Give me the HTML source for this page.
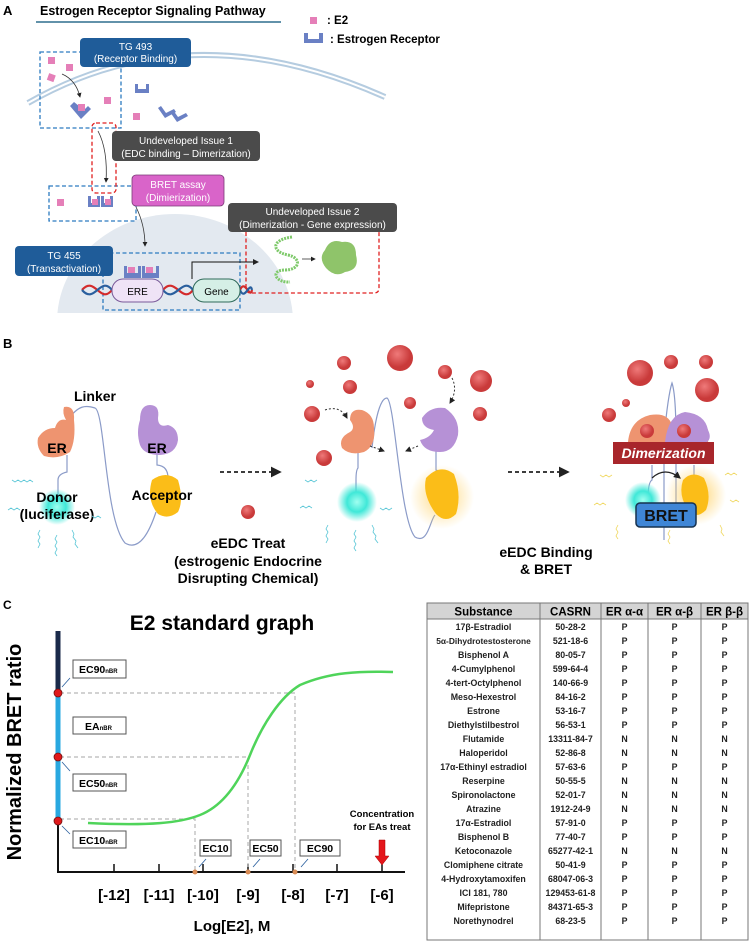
<!DOCTYPE html>
<html><head><meta charset="utf-8"><style>
html,body{margin:0;padding:0;background:#fff}
svg{display:block;font-family:"Liberation Sans",Arial,sans-serif}
</style></head><body>
<svg width="750" height="943" viewBox="0 0 750 943" xmlns="http://www.w3.org/2000/svg">
<defs>
<marker id="ah" markerWidth="6" markerHeight="6" refX="5" refY="3" orient="auto"><path d="M0,0 L6,3 L0,6 z" fill="#222"/></marker>
<radialGradient id="cy"><stop offset="0" stop-color="#a0fff0"/><stop offset="0.5" stop-color="#40e8d8"/><stop offset="1" stop-color="#40e8d8" stop-opacity="0"/></radialGradient>
<radialGradient id="yg"><stop offset="0.4" stop-color="#ffd060" stop-opacity="0.8"/><stop offset="1" stop-color="#ffd060" stop-opacity="0"/></radialGradient>
<radialGradient id="rd" cx="0.4" cy="0.35"><stop offset="0" stop-color="#ef7a7a"/><stop offset="1" stop-color="#c93a3a"/></radialGradient>
<clipPath id="nc"><rect x="0" y="0" width="750" height="313"/></clipPath>
</defs>

<!-- PANEL A -->
<text x="3" y="15" font-size="13" font-weight="bold">A</text>
<text x="40" y="15" font-size="12.5" font-weight="bold">Estrogen Receptor Signaling Pathway</text>
<line x1="36" y1="22" x2="281" y2="22" stroke="#2e6e8e" stroke-width="1.5"/>
<rect x="310" y="17" width="7" height="7" fill="#e57fb8"/>
<text x="327" y="24" font-size="11.5" font-weight="bold">: E2</text>
<path d="M304,33 v10 h19 v-10 h-4 v6 h-11 v-6 z" fill="#6a80c4"/>
<text x="330" y="43" font-size="11.5" font-weight="bold">: Estrogen Receptor</text>

<g clip-path="url(#nc)">
<ellipse cx="175" cy="322" rx="118" ry="108" fill="#e3e9f0"/>
</g>
<path d="M28,103 Q190,10 385,97" fill="none" stroke="#b5cce0" stroke-width="6"/>
<path d="M28,103 Q190,10 385,97" fill="none" stroke="#fff" stroke-width="2"/>

<g fill="#e57fb8">
<rect x="48" y="57" width="7" height="7"/><rect x="66" y="64" width="7" height="7"/><rect x="48" y="74" width="7" height="7" transform="rotate(20 51 77)"/>
<rect x="104" y="97" width="7" height="7"/><rect x="133" y="113" width="7" height="7"/>
<rect x="57" y="199" width="7" height="7"/>
</g>
<g fill="#6a80c4">
<path d="M70,106 l4,-4 l10,8 l4,-4 l3,3 l-10,10 z"/>
<rect x="78" y="104" width="7" height="7" fill="#e57fb8"/>
<path d="M135,84 v9 h14 v-9 h-3 v5 h-8 v-5 z"/>
<path d="M158,108 l3,-2 l5,7 l8,-4 l2,3 l-11,6 z"/>
<path d="M170,112 l3,-2 l5,7 l8,-4 l2,3 l-11,6 z"/>
<path d="M88,196 v11 h12 v-11 h-3 v7 h-6 v-7 z"/><path d="M101,196 v11 h12 v-11 h-3 v7 h-6 v-7 z"/>
<path d="M124,266 v12 h17 v-12 h-3 v7 h-11 v-7 z"/><path d="M142,266 v12 h17 v-12 h-3 v7 h-11 v-7 z"/>
</g>
<g fill="#e57fb8"><rect x="92" y="199" width="6" height="6"/><rect x="105" y="199" width="6" height="6"/><rect x="128" y="267" width="7" height="6"/><rect x="146" y="267" width="7" height="6"/></g>

<path d="M62,74 Q76,80 80,97" fill="none" stroke="#333" stroke-width="0.8" marker-end="url(#ah)"/>
<path d="M98,131 Q108,150 106,182" fill="none" stroke="#333" stroke-width="0.8" marker-end="url(#ah)"/>
<path d="M136,207 Q145,225 145,246" fill="none" stroke="#333" stroke-width="0.8" marker-end="url(#ah)"/>

<g fill="none" stroke-width="1.3" stroke-dasharray="4,2.5">
<rect x="40" y="52" width="81" height="76" stroke="#2c7bc0"/>
<rect x="49" y="186" width="87" height="35" stroke="#2c7bc0"/>
<rect x="103" y="253" width="137" height="57" stroke="#2c7bc0"/>
<rect x="92" y="123" width="24" height="70" rx="4" stroke="#e02020"/>
<path d="M246,232 V288 Q246,293 251,293 H374 Q379,293 379,288 V232" stroke="#e02020"/>
</g>

<g fill="none" stroke-width="2.2">
<path d="M82,290 C95,275 100,305 112,290" stroke="#d42b2b"/><path d="M82,290 C95,305 100,275 112,290" stroke="#2a5f9e"/>
<path d="M163,290 C175,275 182,305 193,290" stroke="#d42b2b"/><path d="M163,290 C175,305 182,275 193,290" stroke="#2a5f9e"/>
<path d="M240,290 C245,278 250,300 252,290" stroke="#d42b2b"/><path d="M240,290 C245,302 250,280 252,290" stroke="#2a5f9e"/>
</g>
<rect x="112" y="279" width="51" height="23" rx="11" fill="#efe3f6" stroke="#7a5a9a" stroke-width="1"/>
<text x="137.5" y="295" font-size="10" text-anchor="middle">ERE</text>
<rect x="193" y="279" width="47" height="23" rx="11" fill="#d5efe6" stroke="#2f6a5a" stroke-width="1"/>
<text x="216.5" y="295" font-size="10" text-anchor="middle">Gene</text>
<path d="M192,279 V262 H258" fill="none" stroke="#111" stroke-width="1" marker-end="url(#ah)"/>
<path d="M292,237 C270,240 272,252 288,255 C302,258 300,270 285,270 C270,270 275,283 290,282" fill="none" stroke="#7ec96a" stroke-width="3" stroke-dasharray="2,1"/>
<line x1="302" y1="259" x2="315" y2="259" stroke="#333" stroke-width="0.8" marker-end="url(#ah)"/>
<path d="M325,250 Q330,238 342,242 Q356,240 356,255 Q360,270 345,272 Q335,278 326,268 Q318,258 325,250 z" fill="#8fc46a"/>

<rect x="80" y="38" width="111" height="29" rx="4" fill="#1f5c99"/>
<text x="135.5" y="50" font-size="10" fill="#fff" text-anchor="middle">TG 493</text>
<text x="135.5" y="62" font-size="10" fill="#fff" text-anchor="middle">(Receptor  Binding)</text>
<rect x="112" y="131" width="148" height="30" rx="4" fill="#4b4b4b"/>
<text x="186" y="144" font-size="10" fill="#fff" text-anchor="middle">Undeveloped  Issue  1</text>
<text x="186" y="157" font-size="10" fill="#fff" text-anchor="middle">(EDC binding – Dimerization)</text>
<rect x="132" y="175" width="92" height="31" rx="4" fill="#d964c9" stroke="#7a3b76" stroke-width="0.8"/>
<text x="178" y="188" font-size="10" fill="#fff" text-anchor="middle">BRET assay</text>
<text x="178" y="201" font-size="10" fill="#fff" text-anchor="middle">(Dimierization)</text>
<rect x="228" y="203" width="169" height="29" rx="4" fill="#4b4b4b"/>
<text x="312.5" y="215" font-size="10" fill="#fff" text-anchor="middle">Undeveloped  Issue  2</text>
<text x="312.5" y="228" font-size="10" fill="#fff" text-anchor="middle">(Dimerization  - Gene expression)</text>
<rect x="15" y="246" width="98" height="30" rx="4" fill="#1f5c99"/>
<text x="64" y="259" font-size="10" fill="#fff" text-anchor="middle">TG 455</text>
<text x="64" y="272" font-size="10" fill="#fff" text-anchor="middle">(Transactivation)</text>

<!-- PANEL B -->
<text x="3" y="348" font-size="13" font-weight="bold">B</text>
<g stroke="#8b9bc8" stroke-width="1.2" fill="none">
<path d="M68,420 C78,405 86,405 95,408 C105,412 105,520 125,543 C140,552 150,530 156,512"/>
<path d="M67,455 V472 Q58,474 58,480 V505"/>
<path d="M157,452 V465 Q168,466 168,478"/>
<path d="M372,448 C375,420 380,398 387,398 C395,402 400,520 415,537 C428,545 430,520 435,515"/>
<path d="M358,452 V468 Q356,470 356,480 V500"/>
<path d="M436,450 V470 Q442,472 442,480"/>
<path d="M664,540 V438 Q668,395 672,383 Q676,395 676,440 V520"/>
<path d="M652,465 V480 Q648,482 648,500"/>
<path d="M694,465 V480"/>
</g>
<text x="95" y="401" font-size="14" font-weight="bold" text-anchor="middle">Linker</text>
<path d="M55,428 Q58,418 66,420 Q62,413 64,407 Q75,405 74,420 Q76,440 70,452 Q58,460 44,456 Q36,448 38,438 Q44,428 55,428 z" fill="#ee9470"/>
<text x="57" y="453" font-size="14" font-weight="bold" text-anchor="middle">ER</text>
<path d="M140,420 Q140,405 150,405 Q160,405 158,418 Q158,428 168,425 Q178,428 178,440 Q176,454 160,455 Q144,455 140,445 Q136,432 140,420 z" fill="#b691d6"/>
<text x="157" y="453" font-size="14" font-weight="bold" text-anchor="middle">ER</text>
<circle cx="57" cy="507" r="18" fill="url(#cy)"/>
<path d="M152,480 Q166,470 178,480 Q184,500 178,512 Q168,520 158,514 Q146,500 152,480 z" fill="#fbbd18"/>
<text x="57" y="502" font-size="14" font-weight="bold" text-anchor="middle">Donor</text>
<text x="57" y="519" font-size="14" font-weight="bold" text-anchor="middle">(luciferase)</text>
<text x="162" y="500" font-size="14" font-weight="bold" text-anchor="middle">Acceptor</text>
<g stroke="#59c6d6" stroke-width="0.8" fill="none">
<path d="M12,480 l3,2 l3,-2 l3,2 l3,-2 l3,2 l3,-2 l3,2"/>
<path d="M8,510 l3,-2 l3,2 l3,-2 l3,2"/>
<path d="M40,530 l-2,4 l2,3 l-2,4 l2,3 l-2,4"/>
<path d="M57,535 l-2,4 l2,3 l-2,4 l2,3 l-2,4 l2,3"/>
<path d="M72,530 l2,4 l-1,3 l3,4 l-1,3 l3,4"/>
<path d="M92,516 l3,2 l3,-2 l3,2"/>
<path d="M305,480 l3,2 l3,-2 l3,2 l3,-2"/>
<path d="M300,508 l3,-2 l3,2 l3,-2 l3,2"/>
<path d="M328,525 l-2,4 l2,3 l-2,4 l2,3 l-2,4"/>
<path d="M356,530 l-2,4 l2,3 l-2,4 l2,3 l-2,4 l2,3"/>
<path d="M372,525 l2,4 l-1,3 l3,4 l-1,3 l3,4"/>
<path d="M380,508 l3,2 l3,-2 l3,2 l3,-2"/>
</g>
<line x1="220" y1="472" x2="280" y2="472" stroke="#222" stroke-width="1.8" stroke-dasharray="4,3" marker-end="url(#ah)"/>
<circle cx="248" cy="512" r="7" fill="url(#rd)"/>
<g font-size="14" font-weight="bold" text-anchor="middle">
<text x="248" y="548">eEDC Treat</text>
<text x="248" y="566">(estrogenic Endocrine</text>
<text x="248" y="583">Disrupting Chemical)</text>
<text x="546" y="557">eEDC Binding</text>
<text x="546" y="574">&amp; BRET</text>
</g>
<g fill="url(#rd)">
<circle cx="344" cy="363" r="7"/><circle cx="400" cy="358" r="13"/><circle cx="445" cy="372" r="7"/><circle cx="481" cy="381" r="11"/>
<circle cx="310" cy="384" r="4"/><circle cx="350" cy="387" r="7"/><circle cx="410" cy="403" r="6"/><circle cx="480" cy="414" r="7"/>
<circle cx="312" cy="414" r="8"/><circle cx="324" cy="458" r="8"/>
</g>
<path d="M350,420 Q350,408 362,410 Q374,414 374,428 Q376,446 364,452 Q350,456 342,448 Q338,438 350,432 Q356,428 350,420 z" fill="#ee9470"/>
<path d="M422,418 Q430,406 445,408 Q460,418 458,435 Q454,452 440,452 Q424,452 420,440 Q430,438 434,430 Q422,428 422,418 z" fill="#b691d6"/>
<g stroke="#333" stroke-width="1" fill="none" stroke-dasharray="2,2">
<path d="M325,410 Q340,405 347,418" marker-end="url(#ah)"/>
<path d="M452,378 Q458,390 450,403" marker-end="url(#ah)"/>
<path d="M370,446 l14,5" marker-end="url(#ah)"/>
<path d="M418,446 l-12,5" marker-end="url(#ah)"/>
</g>
<circle cx="357" cy="502" r="20" fill="url(#cy)"/>
<circle cx="442" cy="497" r="32" fill="url(#yg)" opacity="0.6"/>
<path d="M426,478 Q440,463 454,474 Q462,495 456,514 Q446,524 436,514 Q422,495 426,478 z" fill="#fbbd18"/>
<line x1="508" y1="472" x2="568" y2="472" stroke="#222" stroke-width="1.8" stroke-dasharray="4,3" marker-end="url(#ah)"/>
<g fill="url(#rd)">
<circle cx="640" cy="373" r="13"/><circle cx="671" cy="362" r="7"/><circle cx="706" cy="362" r="7"/><circle cx="707" cy="390" r="12"/>
<circle cx="609" cy="415" r="7"/><circle cx="626" cy="403" r="4"/>
</g>
<path d="M628,442 Q630,420 650,415 Q668,412 672,425 Q680,410 695,415 Q712,425 708,442 z" fill="#ee9470"/>
<path d="M665,442 Q668,415 685,412 Q705,414 708,430 Q712,438 707,442 z" fill="#b691d6"/>
<circle cx="647" cy="431" r="7" fill="url(#rd)"/><circle cx="684" cy="431" r="7" fill="url(#rd)"/>
<rect x="613" y="442" width="101" height="22" fill="#a8262b"/>
<text x="663.5" y="458" font-size="14" font-weight="bold" font-style="italic" fill="#fff" text-anchor="middle">Dimerization</text>
<circle cx="643" cy="500" r="18" fill="url(#cy)"/>
<circle cx="696" cy="495" r="30" fill="url(#yg)" opacity="0.7"/>
<path d="M683,480 Q692,470 704,478 Q712,495 706,510 Q696,520 688,510 Q678,495 683,480 z" fill="#fbbd18"/>
<path d="M652,478 Q665,466 680,478" fill="none" stroke="#222" stroke-width="1.2" marker-end="url(#ah)"/>
<g stroke="#f0d860" stroke-width="0.8" fill="none">
<path d="M600,475 l3,2 l3,-2 l3,2 l3,-2"/><path d="M594,505 l3,-2 l3,2 l3,-2 l3,2"/><path d="M618,525 l-2,4 l2,3 l-2,4 l2,3"/>
<path d="M725,475 l3,-2 l3,2 l3,-2 l3,2"/><path d="M730,500 l3,2 l3,-2 l3,2"/><path d="M720,525 l2,4 l-1,3 l3,4"/><path d="M670,530 l-2,4 l2,3 l-2,4 l2,3"/>
</g>
<rect x="636" y="503" width="60" height="24" rx="4" fill="#3f86d6" stroke="#17324f" stroke-width="1.5"/>
<text x="666" y="521" font-size="16" font-weight="bold" fill="#111" text-anchor="middle">BRET</text>

<!-- PANEL C -->
<text x="3" y="609" font-size="12" font-weight="bold">C</text>
<text x="222" y="630" font-size="21" font-weight="bold" text-anchor="middle">E2 standard graph</text>
<text transform="translate(21,752) rotate(-90)" font-size="20" font-weight="bold" text-anchor="middle">Normalized BRET ratio</text>
<line x1="58" y1="631" x2="58" y2="693" stroke="#1a2a4a" stroke-width="5"/>
<line x1="58" y1="693" x2="58" y2="821" stroke="#29a8e0" stroke-width="5"/>
<line x1="58" y1="821" x2="58" y2="872" stroke="#111" stroke-width="2"/>
<line x1="57" y1="872" x2="405" y2="872" stroke="#111" stroke-width="2"/>
<g stroke="#111" stroke-width="1.5">
<line x1="114" y1="872" x2="114" y2="864"/><line x1="159" y1="872" x2="159" y2="864"/><line x1="203" y1="872" x2="203" y2="864"/><line x1="248" y1="872" x2="248" y2="864"/><line x1="293" y1="872" x2="293" y2="864"/><line x1="337" y1="872" x2="337" y2="864"/><line x1="382" y1="872" x2="382" y2="864"/>
</g>
<g font-size="15" font-weight="bold" text-anchor="middle">
<text x="114" y="900">[-12]</text><text x="159" y="900">[-11]</text><text x="203" y="900">[-10]</text><text x="248" y="900">[-9]</text><text x="293" y="900">[-8]</text><text x="337" y="900">[-7]</text><text x="382" y="900">[-6]</text>
<text x="232" y="931">Log[E2], M</text>
</g>
<g stroke="#b8b8b8" stroke-width="1.2" stroke-dasharray="4,3" fill="none">
<path d="M60,693 H295 V872"/><path d="M60,757 H248 V872"/><path d="M60,819 H195 V872"/>
</g>
<path d="M88,823 C150,826 180,823 200,815 C225,805 240,780 250,755 C262,725 280,697 300,685 C330,672 360,671 393,672" fill="none" stroke="#4fd45a" stroke-width="2.5"/>
<g fill="#e0191b" stroke="#701010" stroke-width="0.8"><circle cx="58" cy="693" r="4"/><circle cx="58" cy="757" r="4"/><circle cx="58" cy="821" r="4"/></g>
<g fill="#d98c55"><circle cx="195" cy="872" r="2.5"/><circle cx="248" cy="872" r="2.5"/><circle cx="295" cy="872" r="2.5"/></g>
<g fill="#fff" stroke="#555" stroke-width="1">
<rect x="73" y="660" width="53" height="18"/><rect x="73" y="717" width="53" height="17"/><rect x="73" y="774" width="53" height="17"/><rect x="73" y="831" width="53" height="17"/>
<rect x="200" y="840" width="31" height="16"/><rect x="250" y="840" width="31" height="16"/><rect x="300" y="840" width="40" height="16"/>
</g>
<g font-size="10.5" font-weight="bold">
<text x="79" y="673">EC90<tspan font-size="6">nBR</tspan></text>
<text x="85" y="730">EA<tspan font-size="6">nBR</tspan></text>
<text x="79" y="787">EC50<tspan font-size="6">nBR</tspan></text>
<text x="79" y="844">EC10<tspan font-size="6">nBR</tspan></text>
<text x="215.5" y="852" text-anchor="middle">EC10</text><text x="265.5" y="852" text-anchor="middle">EC50</text><text x="320" y="852" text-anchor="middle">EC90</text>
</g>
<g stroke="#2a5f9e" stroke-width="0.8">
<line x1="70" y1="678" x2="62" y2="687"/><line x1="62" y1="762" x2="70" y2="771"/><line x1="62" y1="826" x2="70" y2="834"/>
<line x1="206" y1="859" x2="199" y2="867"/><line x1="260" y1="859" x2="253" y2="867"/><line x1="308" y1="859" x2="301" y2="867"/>
</g>
<text x="382" y="817" font-size="9.5" font-weight="bold" text-anchor="middle">Concentration</text>
<text x="382" y="830" font-size="9.5" font-weight="bold" text-anchor="middle">for EAs treat</text>
<path d="M379,840 H385 V856 H389 L382,865 L375,856 H379 z" fill="#e4161b" stroke="#a00" stroke-width="0.5"/>

<!-- TABLE -->
<rect x="427" y="603" width="321" height="16" fill="#d4d4d4"/>
<rect x="427" y="603" width="321" height="337" fill="none" stroke="#777" stroke-width="1"/>
<line x1="427" y1="619" x2="748" y2="619" stroke="#777"/>
<g stroke="#777" stroke-width="1"><line x1="540" y1="603" x2="540" y2="940"/><line x1="601" y1="603" x2="601" y2="940"/><line x1="648" y1="603" x2="648" y2="940"/><line x1="701" y1="603" x2="701" y2="940"/></g>
<g font-size="11.5" font-weight="bold" text-anchor="middle">
<text x="483.5" y="615.5">Substance</text><text x="570.5" y="615.5">CASRN</text><text x="624.5" y="615.5">ER α-α</text><text x="674.5" y="615.5">ER α-β</text><text x="724.5" y="615.5">ER β-β</text>
</g>
<g font-size="8.8" font-weight="bold" text-anchor="middle" fill="#222">
<text x="483.5" y="630">17β-Estradiol</text><text x="570.5" y="630">50-28-2</text><text x="624.5" y="630">P</text><text x="674.5" y="630">P</text><text x="724.5" y="630">P</text>
<text x="483.5" y="644" font-size="8.4">5α-Dihydrotestosterone</text><text x="570.5" y="644">521-18-6</text><text x="624.5" y="644">P</text><text x="674.5" y="644">P</text><text x="724.5" y="644">P</text>
<text x="483.5" y="658">Bisphenol A</text><text x="570.5" y="658">80-05-7</text><text x="624.5" y="658">P</text><text x="674.5" y="658">P</text><text x="724.5" y="658">P</text>
<text x="483.5" y="672">4-Cumylphenol</text><text x="570.5" y="672">599-64-4</text><text x="624.5" y="672">P</text><text x="674.5" y="672">P</text><text x="724.5" y="672">P</text>
<text x="483.5" y="686">4-tert-Octylphenol</text><text x="570.5" y="686">140-66-9</text><text x="624.5" y="686">P</text><text x="674.5" y="686">P</text><text x="724.5" y="686">P</text>
<text x="483.5" y="700">Meso-Hexestrol</text><text x="570.5" y="700">84-16-2</text><text x="624.5" y="700">P</text><text x="674.5" y="700">P</text><text x="724.5" y="700">P</text>
<text x="483.5" y="714">Estrone</text><text x="570.5" y="714">53-16-7</text><text x="624.5" y="714">P</text><text x="674.5" y="714">P</text><text x="724.5" y="714">P</text>
<text x="483.5" y="728">Diethylstilbestrol</text><text x="570.5" y="728">56-53-1</text><text x="624.5" y="728">P</text><text x="674.5" y="728">P</text><text x="724.5" y="728">P</text>
<text x="483.5" y="742">Flutamide</text><text x="570.5" y="742">13311-84-7</text><text x="624.5" y="742">N</text><text x="674.5" y="742">N</text><text x="724.5" y="742">N</text>
<text x="483.5" y="756">Haloperidol</text><text x="570.5" y="756">52-86-8</text><text x="624.5" y="756">N</text><text x="674.5" y="756">N</text><text x="724.5" y="756">N</text>
<text x="483.5" y="770">17α-Ethinyl estradiol</text><text x="570.5" y="770">57-63-6</text><text x="624.5" y="770">P</text><text x="674.5" y="770">P</text><text x="724.5" y="770">P</text>
<text x="483.5" y="784">Reserpine</text><text x="570.5" y="784">50-55-5</text><text x="624.5" y="784">N</text><text x="674.5" y="784">N</text><text x="724.5" y="784">N</text>
<text x="483.5" y="798">Spironolactone</text><text x="570.5" y="798">52-01-7</text><text x="624.5" y="798">N</text><text x="674.5" y="798">N</text><text x="724.5" y="798">N</text>
<text x="483.5" y="812">Atrazine</text><text x="570.5" y="812">1912-24-9</text><text x="624.5" y="812">N</text><text x="674.5" y="812">N</text><text x="724.5" y="812">N</text>
<text x="483.5" y="826">17α-Estradiol</text><text x="570.5" y="826">57-91-0</text><text x="624.5" y="826">P</text><text x="674.5" y="826">P</text><text x="724.5" y="826">P</text>
<text x="483.5" y="840">Bisphenol B</text><text x="570.5" y="840">77-40-7</text><text x="624.5" y="840">P</text><text x="674.5" y="840">P</text><text x="724.5" y="840">P</text>
<text x="483.5" y="854">Ketoconazole</text><text x="570.5" y="854">65277-42-1</text><text x="624.5" y="854">N</text><text x="674.5" y="854">N</text><text x="724.5" y="854">N</text>
<text x="483.5" y="868">Clomiphene citrate</text><text x="570.5" y="868">50-41-9</text><text x="624.5" y="868">P</text><text x="674.5" y="868">P</text><text x="724.5" y="868">P</text>
<text x="483.5" y="882">4-Hydroxytamoxifen</text><text x="570.5" y="882">68047-06-3</text><text x="624.5" y="882">P</text><text x="674.5" y="882">P</text><text x="724.5" y="882">P</text>
<text x="483.5" y="896">ICI 181, 780</text><text x="570.5" y="896">129453-61-8</text><text x="624.5" y="896">P</text><text x="674.5" y="896">P</text><text x="724.5" y="896">P</text>
<text x="483.5" y="910">Mifepristone</text><text x="570.5" y="910">84371-65-3</text><text x="624.5" y="910">P</text><text x="674.5" y="910">P</text><text x="724.5" y="910">P</text>
<text x="483.5" y="924">Norethynodrel</text><text x="570.5" y="924">68-23-5</text><text x="624.5" y="924">P</text><text x="674.5" y="924">P</text><text x="724.5" y="924">P</text>
</g>
</svg>
</body></html>
